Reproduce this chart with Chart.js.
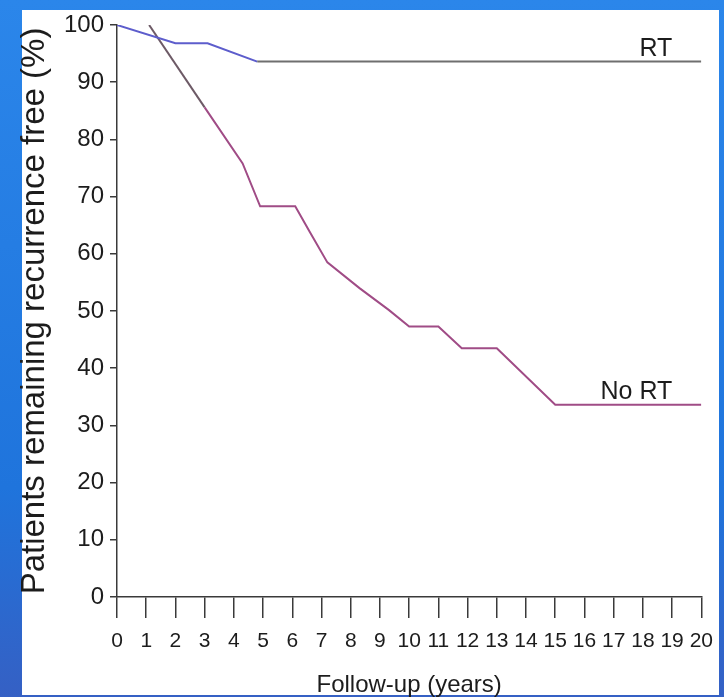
<!DOCTYPE html>
<html>
<head>
<meta charset="utf-8">
<script src="https://cdn.jsdelivr.net/npm/chart.js@4.4.1/dist/chart.umd.min.js"></script>
<style>
  html, body { margin: 0; padding: 0; }
  body {
    width: 724px; height: 697px; position: relative; overflow: hidden;
    background: linear-gradient(180deg, #2b86ea 0%, #1f74dc 70%, #3560c4 100%);
  }
  .panel { position: absolute; left: 22px; top: 10px; width: 697px; height: 685px; background: #fff; }
  .wrap { position: absolute; left: 0; top: 0; width: 724px; height: 697px; }
</style>
</head>
<body>
<div class="panel"></div>
<div class="wrap"><canvas id="km"></canvas></div>
<script>
// Recurrence-free curves
const rtYears = [0, 2.0, 3.1, 4.8, 20];
const rtFree = [100, 96.8, 96.8, 93.6, 93.6];

const noRtYears = [1.1, 3.0, 4.3, 4.9, 6.1, 6.6, 7.2, 8.3, 9.3, 10.0, 11.0, 11.8, 13.0, 15.0, 20];
const noRtFree = [100, 85.6, 75.8, 68.3, 68.3, 63.8, 58.5, 54.0, 50.2, 47.3, 47.3, 43.5, 43.5, 33.6, 33.6];

const seriesNames = ['RT', 'No RT'];

const fontFamily = '"Liberation Sans", Arial, Helvetica, sans-serif';
const textColor = '#1c1c1c';
const axisColor = '#3a3a3a';

const toPoints = (xs, ys) => xs.map((x, i) => ({ x, y: ys[i] }));

// Write the curve name just above the end of each curve
const curveLabels = {
  id: 'curveLabels',
  afterDatasetsDraw(chart) {
    const { ctx } = chart;
    ctx.save();
    ctx.font = `25px ${fontFamily}`;
    ctx.fillStyle = textColor;
    ctx.textAlign = 'right';
    ctx.textBaseline = 'alphabetic';
    chart.data.datasets.forEach((ds, i) => {
      const pts = chart.getDatasetMeta(i).data;
      const last = pts[pts.length - 1];
      ctx.fillText(ds.label, last.x - 29, last.y - 6);
    });
    ctx.restore();
  }
};

new Chart(document.getElementById('km'), {
  type: 'line',
  data: {
    datasets: [
      {
        label: seriesNames[0],
        data: toPoints(rtYears, rtFree),
        borderColor: '#5d5dcc',
        borderWidth: 2,
        pointRadius: 0,
        tension: 0,
        segment: {
          // long plateau is drawn grey in the original
          borderColor: (c) => c.p1DataIndex === rtYears.length - 1 ? '#6f6f6f' : undefined,
        },
      },
      {
        label: seriesNames[1],
        data: toPoints(noRtYears, noRtFree),
        borderColor: '#a04c86',
        borderWidth: 2,
        pointRadius: 0,
        tension: 0,
        segment: {
          borderColor: (c) => c.p0.parsed.y > 90 ? '#6d5a66' : undefined,
        },
      },
    ],
  },
  options: {
    responsive: true,
    maintainAspectRatio: false,
    animation: false,
    layout: {
      padding: { top: 25, right: 18, left: 0, bottom: 0 },
    },
    plugins: {
      legend: { display: false },
      tooltip: { enabled: false },
    },
    scales: {
      x: {
        type: 'linear',
        min: 0,
        max: 20,
        ticks: {
          stepSize: 1,
          autoSkip: false,
          maxRotation: 0,
          padding: 11,
          color: textColor,
          font: { family: fontFamily, size: 21 },
        },
        grid: {
          drawOnChartArea: false,
          drawTicks: true,
          tickLength: 21,
          color: axisColor,
          lineWidth: 1.5,
        },
        border: { display: true, color: axisColor, width: 1.5 },
        title: {
          display: true,
          text: 'Follow-up (years)',
          color: textColor,
          font: { family: fontFamily, size: 24, lineHeight: 1 },
          padding: 0,
        },
        afterFit: (s) => { s.height = 100; },
      },
      y: {
        min: 0,
        max: 100,
        ticks: {
          stepSize: 10,
          padding: 6,
          color: textColor,
          font: { family: fontFamily, size: 24 },
        },
        grid: {
          drawOnChartArea: false,
          drawTicks: true,
          tickLength: 7,
          color: axisColor,
          lineWidth: 1.5,
        },
        border: { display: true, color: axisColor, width: 1.5 },
        title: {
          display: true,
          text: 'Patients remaining recurrence free (%)',
          color: textColor,
          font: { family: fontFamily, size: 33, lineHeight: 1.2 },
          padding: { top: 15, bottom: 0 },
        },
        afterFit: (s) => { s.width = 117; },
      },
    },
  },
  plugins: [curveLabels],
});
</script>
</body>
</html>
